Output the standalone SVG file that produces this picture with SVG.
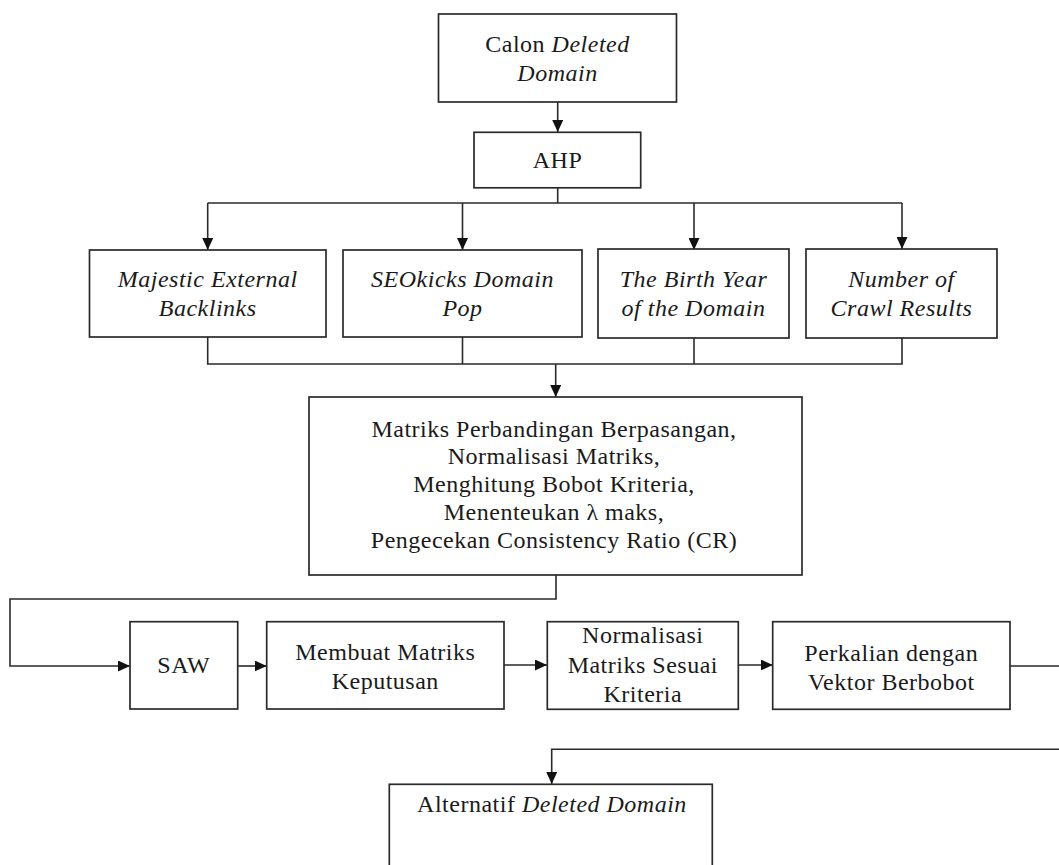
<svg xmlns="http://www.w3.org/2000/svg" width="1059" height="865" viewBox="0 0 1059 865">
<defs>
<style>
.box{fill:#fff;stroke:#2a2a2a;stroke-width:1.7}
.ln{fill:none;stroke:#2a2a2a;stroke-width:1.6}
.t{font-family:"Liberation Serif","Times New Roman",serif;font-size:24px;fill:#1a1a1a;text-anchor:middle;letter-spacing:0.5px}
.i{font-style:italic}
</style>
<marker id="ah" markerUnits="userSpaceOnUse" markerWidth="12" markerHeight="11" refX="12" refY="5.5" orient="auto">
<path d="M0,0 L12,5.5 L0,11 z" fill="#111"/>
</marker>
</defs>
<rect width="1059" height="865" fill="#fff"/>
<g id="connectors">
<path class="ln" d="M557.7,102 V132" marker-end="url(#ah)"/>
<path class="ln" d="M557.7,188 V203"/>
<path class="ln" d="M207.7,203 H902"/>
<path class="ln" d="M207.7,203 V250" marker-end="url(#ah)"/>
<path class="ln" d="M462.5,203 V250" marker-end="url(#ah)"/>
<path class="ln" d="M694,203 V250" marker-end="url(#ah)"/>
<path class="ln" d="M902,203 V249" marker-end="url(#ah)"/>
<path class="ln" d="M207.7,337 V364 H902 V338"/>
<path class="ln" d="M462.5,337 V364"/>
<path class="ln" d="M694,338 V364"/>
<path class="ln" d="M555.7,364 V397" marker-end="url(#ah)"/>
<path class="ln" d="M556,575 V599 H10 V666 H130" marker-end="url(#ah)"/>
<path class="ln" d="M237.7,666 H266.7" marker-end="url(#ah)"/>
<path class="ln" d="M504,665 H547" marker-end="url(#ah)"/>
<path class="ln" d="M738.3,665 H772.7" marker-end="url(#ah)"/>
<path class="ln" d="M1010,666 H1066 V749.3 H551.7 V784" marker-end="url(#ah)"/>
</g>
<g id="calon">
<rect class="box" x="438.5" y="14" width="238" height="88"/>
<text class="t" x="557.5" y="52">Calon <tspan class="i">Deleted</tspan></text>
<text class="t i" x="557.5" y="81">Domain</text>
</g>
<g id="ahp">
<rect class="box" x="474" y="132.3" width="166.7" height="55.5"/>
<text class="t" x="557.5" y="168">AHP</text>
</g>
<g id="majestic">
<rect class="box" x="89.5" y="250" width="236.5" height="87"/>
<text class="t i" x="207.7" y="287">Majestic External</text>
<text class="t i" x="207.7" y="315.5">Backlinks</text>
</g>
<g id="seokicks">
<rect class="box" x="343" y="250" width="239" height="87"/>
<text class="t i" x="462.5" y="287">SEOkicks Domain</text>
<text class="t i" x="462.5" y="315.5">Pop</text>
</g>
<g id="birthyear">
<rect class="box" x="598" y="249" width="191" height="89"/>
<text class="t i" x="693.5" y="287">The Birth Year</text>
<text class="t i" x="693.5" y="315.5">of the Domain</text>
</g>
<g id="crawl">
<rect class="box" x="806" y="249" width="191" height="89"/>
<text class="t i" x="901.5" y="287">Number of</text>
<text class="t i" x="901.5" y="315.5">Crawl Results</text>
</g>
<g id="matriks">
<rect class="box" x="309" y="397" width="493" height="178"/>
<text class="t" x="554" y="436.5">Matriks Perbandingan Berpasangan,</text>
<text class="t" x="554" y="464.2">Normalisasi Matriks,</text>
<text class="t" x="554" y="492">Menghitung Bobot Kriteria,</text>
<text class="t" x="554" y="519.7">Menenteukan λ maks,</text>
<text class="t" x="554" y="547.5">Pengecekan Consistency Ratio (CR)</text>
</g>
<g id="saw">
<rect class="box" x="130" y="621.7" width="107.7" height="87.3"/>
<text class="t" x="183.8" y="673">SAW</text>
</g>
<g id="membuat">
<rect class="box" x="266.7" y="621.7" width="237.3" height="87.3"/>
<text class="t" x="385.3" y="659.5">Membuat Matriks</text>
<text class="t" x="385.3" y="688.5">Keputusan</text>
</g>
<g id="normalisasi">
<rect class="box" x="547.3" y="621.7" width="191" height="87.6"/>
<text class="t" x="642.8" y="643.3">Normalisasi</text>
<text class="t" x="642.8" y="672.7">Matriks Sesuai</text>
<text class="t" x="642.8" y="701.7">Kriteria</text>
</g>
<g id="perkalian">
<rect class="box" x="772.7" y="621.7" width="237.3" height="87.6"/>
<text class="t" x="891.3" y="661">Perkalian dengan</text>
<text class="t" x="891.3" y="690">Vektor Berbobot</text>
</g>
<g id="alternatif">
<rect class="box" x="389.3" y="784.3" width="323" height="95"/>
<text class="t" x="552" y="811.5">Alternatif <tspan class="i">Deleted Domain</tspan></text>
</g>
</svg>
